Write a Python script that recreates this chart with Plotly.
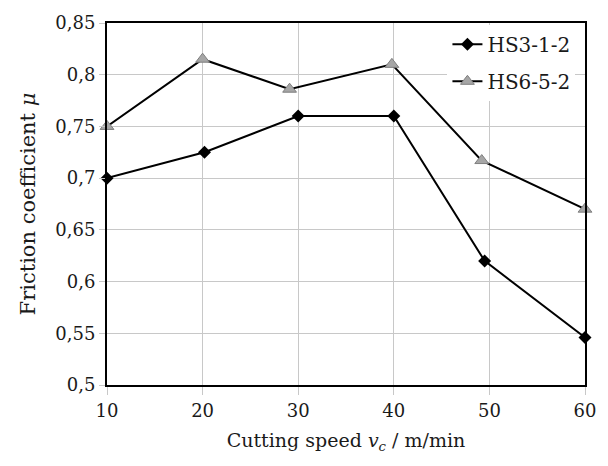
import plotly.graph_objects as go

x_hs3 = [10, 20.2, 30, 40, 49.5, 60]
y_hs3 = [0.70, 0.725, 0.76, 0.76, 0.62, 0.546]
x_hs6 = [10, 20, 29.1, 39.8, 49.2, 60]
y_hs6 = [0.75, 0.815, 0.786, 0.81, 0.717, 0.67]

x_ticks = [10, 20, 30, 40, 50, 60]

fig = go.Figure()
fig.add_trace(go.Scatter(
    x=x_hs3, y=y_hs3, mode="lines+markers", name="HS3-1-2",
    legendgroup="a",
    line=dict(color="black", width=2),
    marker=dict(symbol="diamond", size=10, color="black"),
    cliponaxis=False,
))
fig.add_trace(go.Scatter(
    x=x_hs6, y=y_hs6, mode="lines+markers", name="HS6-5-2",
    legendgroup="b",
    line=dict(color="black", width=2),
    marker=dict(symbol="triangle-up", size=12, color="#a6a6a6",
                line=dict(color="#7f7f7f", width=1)),
    cliponaxis=False,
))

font = "DejaVu Serif"
fig.update_layout(
    width=608, height=466,
    margin=dict(l=107, r=23, t=16, b=81),
    paper_bgcolor="white", plot_bgcolor="white",
    separators=", ",
    font=dict(family=font, size=19, color="#1a1a1a"),
    showlegend=True,
    legend=dict(x=0.98, y=0.995, xanchor="right", yanchor="top",
                bgcolor="white", borderwidth=0,
                font=dict(family=font, size=20), tracegroupgap=8,
                itemwidth=30),
    xaxis=dict(range=[10, 60], tickvals=x_ticks,
               showgrid=True, gridcolor="#c8c8c8", gridwidth=1,
               showline=True, linecolor="black", linewidth=2, mirror=True,
               ticks="outside", ticklen=8, tickcolor="#c8c8c8",
               zeroline=False, tickfont=dict(family=font, size=18),
               title=dict(text="Cutting speed <i>v<sub>c</sub></i> / m/min",
                          font=dict(family=font, size=19), standoff=14)),
    yaxis=dict(range=[0.5, 0.85], dtick=0.05, tick0=0.5,
               showgrid=True, gridcolor="#c8c8c8", gridwidth=1,
               showline=True, linecolor="black", linewidth=2, mirror=True,
               ticks="outside", ticklen=6, tickcolor="#c8c8c8",
               zeroline=False, tickfont=dict(family=font, size=18),
               title=dict(text="Friction coefficient <i>μ</i>",
                          font=dict(family=font, size=21), standoff=14)),
)

fig.write_html("out.html")
